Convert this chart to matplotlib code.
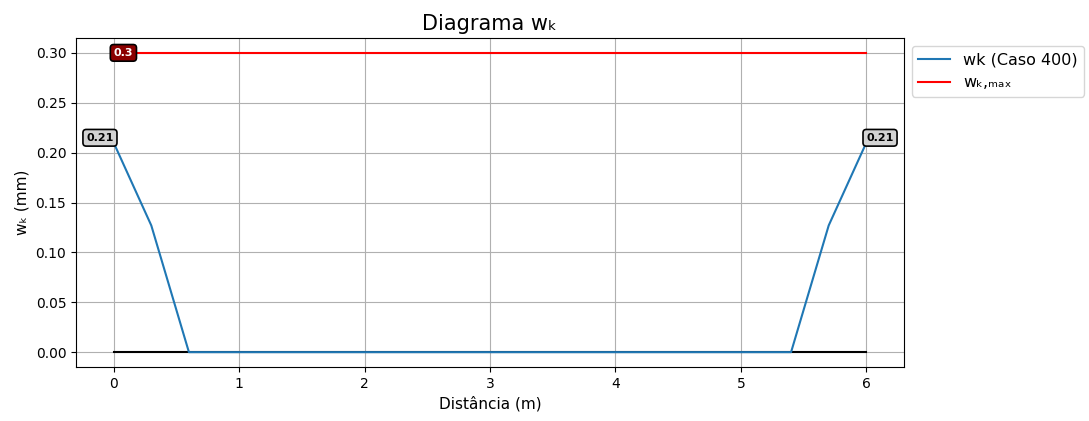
import matplotlib
matplotlib.use("Agg")
import matplotlib.pyplot as plt

x = [0.0, 0.3, 0.6, 0.9, 1.2, 1.5, 1.8, 2.1, 2.4, 2.7, 3.0, 3.3, 3.6, 3.9, 4.2, 4.5, 4.8, 5.1, 5.4, 5.7, 6.0]
wk = [0.21, 0.127, 0.0, 0.0, 0.0, 0.0, 0.0, 0.0, 0.0, 0.0, 0.0, 0.0, 0.0, 0.0, 0.0, 0.0, 0.0, 0.0, 0.0, 0.127, 0.21]
wk_max = 0.3
span = [0.0, 6.0]

fig = plt.figure(figsize=(10.89, 4.21), dpi=100)
ax = fig.add_axes([0.0698, 0.128, 0.7603, 0.782])

ax.plot(span, [0, 0], color="black", lw=1.5, zorder=2)
ax.plot(x, wk, color="#1f77b4", lw=1.5, label="wk (Caso 400)", zorder=3)
ax.plot(span, [wk_max, wk_max], color="red", lw=1.5, label="wₖ,ₘₐₓ", zorder=3)

for xi, yi, ha in [(x[0], wk[0], "right"), (x[-1], wk[-1], "left")]:
    ax.annotate(f"{yi:.2f}", (xi, yi), xytext=(0, 3.5), textcoords="offset points",
                ha=ha, va="center", fontsize=8, fontweight="bold", color="black",
                bbox=dict(boxstyle="round,pad=0.3", fc="lightgray", ec="black", lw=1.2), zorder=5)

ax.annotate(f"{wk_max:g}", (span[0], wk_max), xytext=(0, 0), textcoords="offset points",
            ha="left", va="center", fontsize=8, fontweight="bold", color="white",
            bbox=dict(boxstyle="round,pad=0.3", fc="darkred", ec="black", lw=1.2), zorder=5)

ax.set_title("Diagrama wₖ", fontsize=15)
ax.set_xlabel("Distância (m)", fontsize=11)
ax.set_ylabel("wₖ (mm)", fontsize=11)
ax.grid(True, color="#b0b0b0", lw=0.8)
ax.set_axisbelow(True)
ax.legend(loc="upper left", bbox_to_anchor=(1.0, 1.0), fontsize=11.5)

fig.savefig("out.png", dpi=100)
